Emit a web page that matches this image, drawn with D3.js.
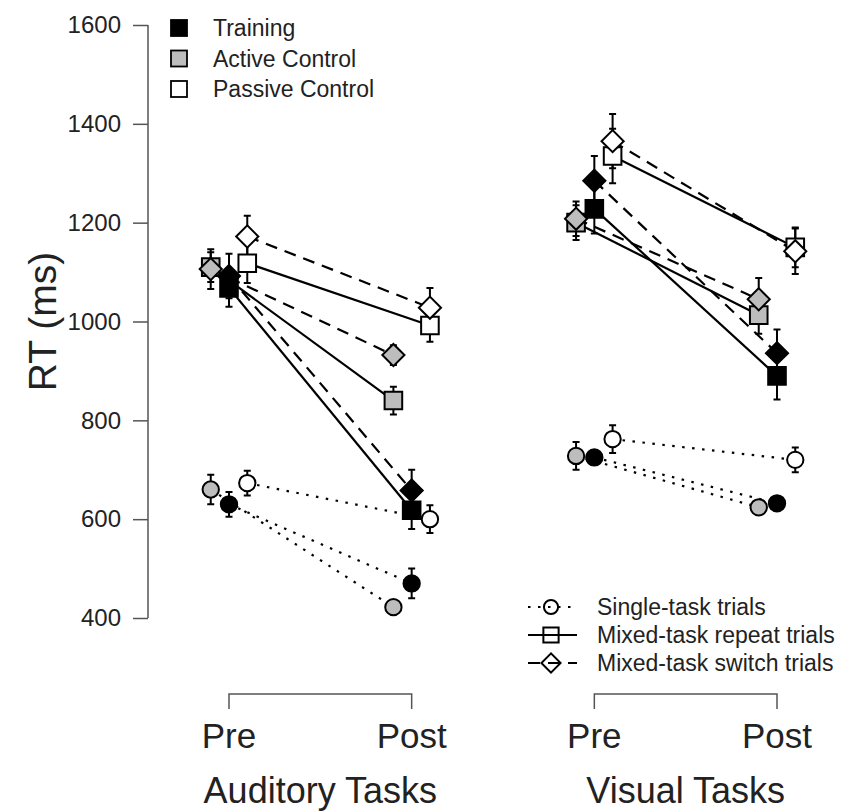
<!DOCTYPE html>
<html><head><meta charset="utf-8">
<script src="https://cdn.jsdelivr.net/npm/d3@7"></script>
<style>body{margin:0;background:#fff}svg{display:block}text{font-family:"Liberation Sans",Arial,sans-serif;fill:#222}</style>
</head><body><svg id="c" width="848" height="811"></svg>
<script>
// ---- data ----
const groups = ["Training", "Active Control", "Passive Control"];
const groupFill = ["#000000", "#bdbdbd", "#ffffff"];
const trialTypes = ["Single-task trials", "Mixed-task repeat trials", "Mixed-task switch trials"];
const tasks = ["Auditory Tasks", "Visual Tasks"];
const sessions = ["Pre", "Post"];
const yTicks = [400, 600, 800, 1000, 1200, 1400, 1600];

// values per group: [Pre, Post] (ms); groups order Training, Active, Passive
const audSingle = [[630, 470], [660, 422], [673, 600]];
const audSingleErr = [[25, 30], [30, 10], [25, 28]];
const audRepeat = [[1068, 618], [1110, 840], [1118, 992]];
const audRepeatErr = [[38, 38], [30, 28], [40, 33]];
const audSwitch = [[1092, 658], [1106, 932], [1172, 1028]];
const audSwitchErr = [[45, 42], [40, 20], [42, 40]];

const visSingle = [[725, 632], [728, 624], [762, 720]];
const visSingleErr = [[15, 14], [28, 10], [28, 25]];
const visRepeat = [[1228, 890], [1200, 1013], [1335, 1150]];
const visRepeatErr = [[50, 48], [35, 38], [55, 40]];
const visSwitch = [[1285, 936], [1208, 1045], [1365, 1142]];
const visSwitchErr = [[50, 48], [35, 43], [55, 46]];

const taskData = [
  [audSingle, audRepeat, audSwitch],
  [visSingle, visRepeat, visSwitch]
];
const taskErr = [
  [audSingleErr, audRepeatErr, audSwitchErr],
  [visSingleErr, visRepeatErr, visSwitchErr]
];

// ---- drawing ----
const svg = d3.select("#c");
const x = d3.scaleLinear().domain([0, 3]).range([229, 777]);
const y = d3.scaleLinear().domain([400, 1600]).range([618, 25]);
const groupOffset = [0, -0.1, 0.1];
const dashes = ["2.5,7.5", null, "12,8"];
const axisCol = "#555";

// marker shapes: circle, square, diamond (rotated square)
function marker(k, scale) {
  if (k === 0) return { d: d3.symbol().type(d3.symbolCircle).size(210 * scale)(), rot: 0 };
  if (k === 1) return { d: d3.symbol().type(d3.symbolSquare).size(310 * scale)(), rot: 0 };
  return { d: d3.symbol().type(d3.symbolSquare).size(245 * scale)(), rot: 45 };
}

// y axis
const yAxis = d3.axisLeft(y).tickValues(yTicks).tickSize(15).tickPadding(12).tickFormat(d3.format("d"));
const ga = svg.append("g").attr("transform", "translate(148,0)").call(yAxis);
ga.select(".domain").attr("stroke", axisCol).attr("stroke-width", 1.5).attr("d", `M0,${y(400)}V${y(1600)}`);
ga.selectAll(".tick line").attr("stroke", axisCol).attr("stroke-width", 1.5);
ga.selectAll(".tick text").attr("font-size", 24).attr("fill", "#222")
  .style("font-family", "Liberation Sans, Arial, sans-serif");

svg.append("text").attr("transform", `translate(56,${(y(400) + y(1600)) / 2}) rotate(-90)`)
  .attr("text-anchor", "middle").attr("font-size", 39).text("RT (ms)");

// x brackets per task
tasks.forEach((t, ti) => {
  const x0 = x(ti * 2), x1 = x(ti * 2 + 1);
  svg.append("path").attr("d", `M${x0},709V694H${x1}V709`).attr("fill", "none")
    .attr("stroke", axisCol).attr("stroke-width", 1.5);
  sessions.forEach((s, si) => {
    svg.append("text").attr("x", x(ti * 2 + si)).attr("y", 748).attr("text-anchor", "middle")
      .attr("font-size", 35).text(s);
  });
  svg.append("text").attr("x", (x0 + x1) / 2).attr("y", 803).attr("text-anchor", "middle")
    .attr("font-size", 36).text(t);
});

// data marks
tasks.forEach((t, ti) => {
  const g = svg.append("g");
  const pts = [];
  taskData[ti].forEach((typeVals, ki) => {
    typeVals.forEach((vals, gi) => {
      const px = sessions.map((s, si) => x(ti * 2 + si + groupOffset[gi]));
      const py = vals.map(v => y(v));
      g.append("line").attr("x1", px[0]).attr("y1", py[0]).attr("x2", px[1]).attr("y2", py[1])
        .attr("stroke", "#000").attr("stroke-width", 2.2)
        .attr("stroke-dasharray", dashes[ki]);
      vals.forEach((v, si) => {
        pts.push({ k: ki, g: gi, x: px[si], v: v, e: taskErr[ti][ki][gi][si] });
      });
    });
  });
  // error bars
  pts.forEach(p => {
    const yt = y(p.v + p.e), yb = y(p.v - p.e);
    g.append("path").attr("d", `M${p.x},${yt}V${yb}M${p.x - 3.5},${yt}H${p.x + 3.5}M${p.x - 3.5},${yb}H${p.x + 3.5}`)
      .attr("stroke", "#000").attr("stroke-width", 2).attr("fill", "none");
  });
  // markers
  pts.forEach(p => {
    const m = marker(p.k, 1);
    g.append("path").attr("d", m.d)
      .attr("transform", `translate(${p.x},${y(p.v)}) rotate(${m.rot})`)
      .attr("fill", groupFill[p.g]).attr("stroke", "#000").attr("stroke-width", 2);
  });
});

// group legend (top left)
const lg = svg.append("g");
groups.forEach((gname, i) => {
  const cy = 28 + i * 30.5;
  lg.append("rect").attr("x", 171).attr("y", cy - 8).attr("width", 16).attr("height", 16)
    .attr("fill", groupFill[i]).attr("stroke", "#000").attr("stroke-width", 1.8);
  lg.append("text").attr("x", 213).attr("y", cy).attr("dy", "0.35em").attr("font-size", 23).text(gname);
});

// trial-type legend (bottom right)
const lt = svg.append("g");
trialTypes.forEach((tname, i) => {
  const cy = 607 + i * 28;
  lt.append("line").attr("x1", 528).attr("x2", 577).attr("y1", cy).attr("y2", cy)
    .attr("stroke", "#000").attr("stroke-width", 2).attr("stroke-dasharray", dashes[i]);
  const m = marker(i, 0.75);
  lt.append("path").attr("d", m.d)
    .attr("transform", `translate(551,${cy}) rotate(${m.rot})`).attr("fill", "none")
    .attr("stroke", "#000").attr("stroke-width", 2);
  lt.append("text").attr("x", 597).attr("y", cy).attr("dy", "0.35em").attr("font-size", 23).text(tname);
});
</script></body></html>
